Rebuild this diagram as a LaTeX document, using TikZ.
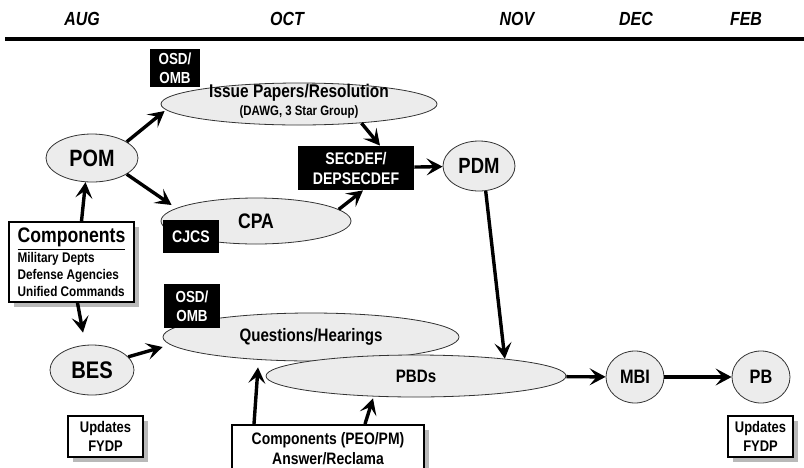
\documentclass[tikz,border=0pt]{standalone}
\usepackage{fontspec}
\setmainfont[FakeStretch=0.84]{Liberation Sans}
\usetikzlibrary{arrows.meta,shapes.geometric,shadows}
\newcommand{\fsz}[2]{\fontsize{#1}{#2}\selectfont}
\tikzset{
    month/.style={font=\fsz{9.5pt}{11pt}\bfseries\itshape},
    oval/.style={ellipse, draw=black!80, thin, fill=gray!15, inner sep=0pt, align=center, font=\fsz{9pt}{10pt}\bfseries},
    blk/.style={fill=black, text=white, align=center, inner sep=0pt, font=\fsz{8pt}{9.5pt}\bfseries},
    card/.style={draw, line width=0.8pt, fill=white, align=center, inner sep=0pt, font=\fsz{7.7pt}{9.5pt}\bfseries,
        drop shadow={shadow xshift=2.5pt, shadow yshift=-2.5pt, opacity=0.55}},
    arr/.style={line width=1.7pt, -{Stealth[length=8pt, width=8.5pt, inset=3.5pt]}}
}

\begin{document}
\begin{tikzpicture}[x=0.5pt, y=-0.5pt]
    \clip (0,0) rectangle (804,467);
    \foreach \m/\x in {AUG/82, OCT/287, NOV/517, DEC/636, FEB/746} {
        \node[month] (m\m) at (\x,19) {\m};
    }
    \draw[line width=1.8pt] (5,39) -- (804,39);

    \node[oval, minimum width=138pt, minimum height=21pt] (issue) at (299,104)
        {\raisebox{-3pt}{\smash{\begin{tabular}{@{}c@{}}\fsz{9.2pt}{10pt}\bfseries Issue Papers/Resolution\\[-1pt]
         \fsz{6.8pt}{8pt}\bfseries (DAWG, 3 Star Group)\end{tabular}}}};
    \node[blk, minimum width=25pt, minimum height=19pt] (osd1) at (175,68) {OSD/\\OMB};
    \node[oval, minimum width=46pt, minimum height=24pt, font=\fsz{11.8pt}{12pt}\bfseries] (pom) at (92,158) {POM};
    \node[oval, minimum width=95pt, minimum height=23pt, font=\fsz{10.5pt}{12pt}\bfseries] (cpa) at (256,221) {CPA};
    \node[blk, minimum width=28pt, minimum height=16.5pt, font=\fsz{8.4pt}{10pt}\bfseries] (cjcs) at (191,236.5) {CJCS};
    \node[blk, minimum width=58pt, minimum height=22pt, font=\fsz{8.4pt}{10pt}\bfseries] (secdef) at (356,168) {SECDEF/\\DEPSECDEF};
    \node[oval, minimum width=36pt, minimum height=25pt, font=\fsz{11pt}{12pt}\bfseries] (pdm) at (479,166) {PDM};
    \node[card, minimum width=62.5pt, minimum height=40pt, align=left, font=\fsz{7pt}{8.5pt}\bfseries] (comp) at (71.5,262)
        {{\fsz{10.5pt}{11.5pt}\bfseries\underline{Components}}\\Military Depts\\Defense Agencies\\Unified Commands};

    \node[oval, minimum width=148pt, minimum height=24pt] (qh) at (311,337) {\raisebox{-2pt}{Questions/Hearings}};
    \node[blk, minimum width=28pt, minimum height=22pt] (osd2) at (192,306) {OSD/\\OMB};
    \node[oval, minimum width=150pt, minimum height=21pt] (pbd) at (416,376) {PBDs};
    \node[oval, minimum width=42pt, minimum height=25pt, font=\fsz{12pt}{12pt}\bfseries] (bes) at (92,370) {BES};
    \node[oval, minimum width=29pt, minimum height=26pt, font=\fsz{9.7pt}{12pt}\bfseries] (mbi) at (635,377) {MBI};
    \node[oval, minimum width=29pt, minimum height=26pt, font=\fsz{9.7pt}{12pt}\bfseries] (pb) at (761,377) {PB};

    \node[card, minimum width=37.5pt, minimum height=20.5pt] (upd1) at (105.5,436.5) {Updates\\FYDP};
    \node[card, minimum width=32.5pt, minimum height=20.5pt] (upd2) at (760.5,436.5) {Updates\\FYDP};
    \node[card, anchor=north, minimum width=96pt, minimum height=24pt, font=\fsz{8.3pt}{10pt}\bfseries] (peo) at (328,424)
        {Components (PEO/PM)\\Answer/Reclama};

    \draw[arr] (pom.25) -- ([shift={(4,7)}]issue.west);
    \draw[arr] (pom.-25) -- ([shift={(11,-16)}]cpa.west);
    \draw[arr] (issue.-17) -- ([xshift=12pt]secdef.north);
    \draw[arr] (cpa.8) -- ([xshift=3.5pt]secdef.south);
    \draw[arr] (secdef) -- (pdm);
    \draw[arr] (pdm.-75) -- (pbd.11);
    \draw[arr] ([xshift=5pt]comp.north) -- (pom.-105);
    \draw[arr] ([xshift=3pt]comp.south) -- ([shift={(-9,-12)}]bes.north);
    \draw[arr] (bes.20) -- ([shift={(0,10)}]qh.west);
    \draw[arr] ([xshift=-37pt]peo.north) -- ([shift={(-53,6)}]qh.south);
    \draw[arr] ([xshift=18.5pt]peo.north) -- ([shift={(-43,1)}]pbd.south);
    \draw[arr] (pbd) -- (mbi);
    \draw[arr] (mbi) -- (pb);
\end{tikzpicture}
\end{document}
